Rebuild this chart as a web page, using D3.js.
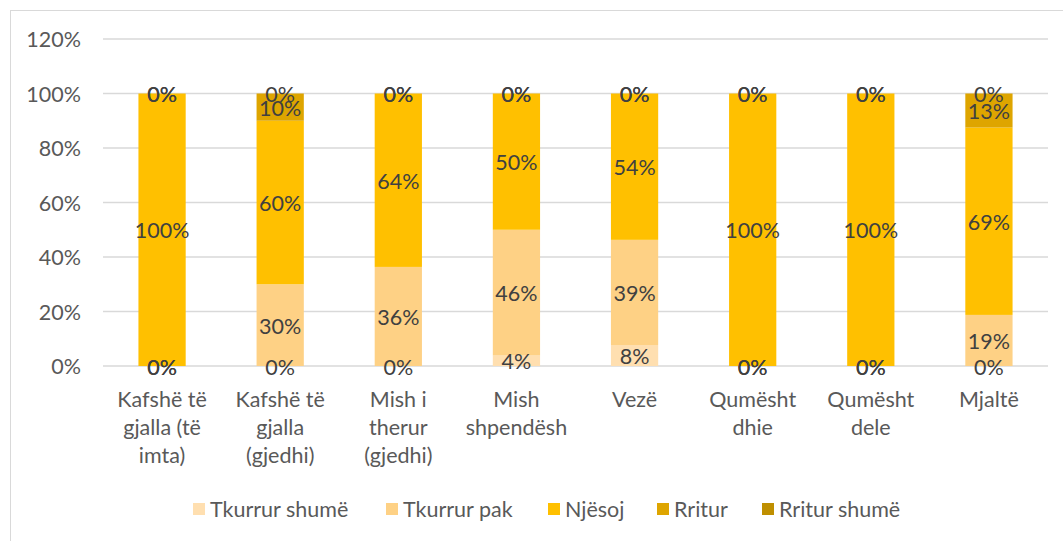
<!DOCTYPE html>
<html><head><meta charset="utf-8">
<script src="https://cdn.jsdelivr.net/npm/d3@7"></script>
<style>body{margin:0;background:#fff;}svg{display:block;}</style>
</head><body><svg id="c" width="1063" height="541"></svg>
<script>
const categories = [
  ["Kafshë të","gjalla (të","imta)"],
  ["Kafshë të","gjalla","(gjedhi)"],
  ["Mish i","therur","(gjedhi)"],
  ["Mish","shpendësh"],
  ["Vezë"],
  ["Qumësht","dhie"],
  ["Qumësht","dele"],
  ["Mjaltë"]
];
const seriesNames = ["Tkurrur shumë","Tkurrur pak","Njësoj","Rritur","Rritur shumë"];
const tkurrurShume = [0, 0, 0, 3.85, 7.7, 0, 0, 0];
const tkurrurPak   = [0, 30, 36.36, 46.15, 38.6, 0, 0, 18.75];
const njesoj       = [100, 60, 63.64, 50, 53.7, 100, 100, 68.75];
const rritur       = [0, 10, 0, 0, 0, 0, 0, 12.5];
const rriturShume  = [0, 0, 0, 0, 0, 0, 0, 0];
const yTicks = [0, 20, 40, 60, 80, 100, 120];
const colors = ["#FFDFB0","#FED185","#FFC000","#DEA500","#BF8F00"];

const seriesValues = [tkurrurShume, tkurrurPak, njesoj, rritur, rriturShume];
const svg = d3.select("#c");
const font = "Lato, 'Open Sans', sans-serif";
const fs = 21.5;

// chart border
svg.append("rect").attr("x",10.5).attr("y",10.5).attr("width",1062).attr("height",540)
  .attr("fill","none").attr("stroke","#d9d9d9");

const x = d3.scaleBand().domain(d3.range(categories.length)).range([103,1048]).paddingInner(0.6).paddingOuter(0.3);
const y = d3.scaleLinear().domain([0,120]).range([366,39]);

// gridlines
svg.append("g").selectAll("line").data(yTicks).join("line")
  .attr("x1",103).attr("x2",1048).attr("y1",d=>y(d)).attr("y2",d=>y(d))
  .attr("stroke","#d9d9d9").attr("stroke-width",1.3);

// y axis
const yAxis = d3.axisLeft(y).tickValues(yTicks).tickSize(0).tickPadding(0).tickFormat(d=>d+"%");
const yg = svg.append("g").attr("transform","translate(81,0)").call(yAxis);
yg.select(".domain").remove();
yg.selectAll("text").attr("font-family",font).attr("font-size",fs).attr("fill","#595959").attr("dy","0.36em");

// stacks
const table = categories.map((c,i)=>{const o={i}; seriesNames.forEach((s,k)=>o[s]=seriesValues[k][i]); return o;});
const stack = d3.stack().keys(seriesNames)(table);

const g = svg.append("g");
stack.forEach((layer,k)=>{
  g.append("g").selectAll("rect").data(layer).join("rect")
    .attr("x",d=>x(d.data.i)).attr("width",x.bandwidth())
    .attr("y",d=>y(d[1])).attr("height",d=>y(d[0])-y(d[1]))
    .attr("fill",colors[k]);
});
stack.forEach((layer,k)=>{
  g.append("g").selectAll("text").data(layer).join("text")
    .attr("x",d=>x(d.data.i)+x.bandwidth()/2)
    .attr("y",d=>y((d[0]+d[1])/2)+1)
    .attr("dy","0.36em").attr("text-anchor","middle")
    .attr("font-family",font).attr("font-size",fs).attr("fill","#404040")
    .text(d=>Math.round(d[1]-d[0])+"%");
});

// x labels
const xg = svg.append("g");
categories.forEach((lines,i)=>{
  const t = xg.append("text").attr("text-anchor","middle")
    .attr("font-family",font).attr("font-size",fs).attr("fill","#595959");
  lines.forEach((ln,j)=>{
    t.append("tspan").attr("x",x(i)+x.bandwidth()/2).attr("y",407+j*28).text(ln);
  });
});

// legend
const legendX = [193, 386, 548, 657, 762];
const lg = svg.append("g");
seriesNames.forEach((s,k)=>{
  lg.append("rect").attr("x",legendX[k]).attr("y",503).attr("width",12).attr("height",12).attr("fill",colors[k]);
  lg.append("text").attr("x",legendX[k]+17).attr("y",509).attr("dy","0.36em")
    .attr("font-family",font).attr("font-size",fs).attr("fill","#595959").text(s);
});
</script>
</body></html>
